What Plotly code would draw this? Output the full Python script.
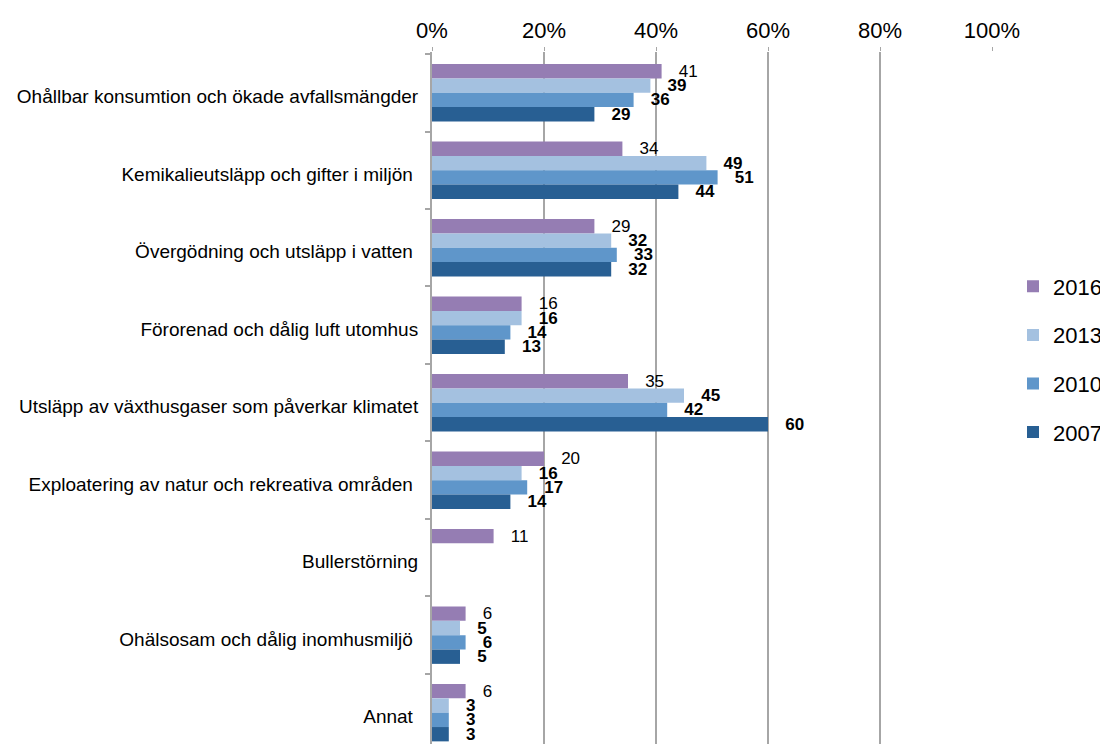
import plotly.graph_objects as go

categories = [
    "Ohållbar konsumtion och ökade avfallsmängder",
    "Kemikalieutsläpp och gifter i miljön ",
    "Övergödning och utsläpp i vatten ",
    "Förorenad och dålig luft utomhus",
    "Utsläpp av växthusgaser som påverkar klimatet",
    "Exploatering av natur och rekreativa områden ",
    "Bullerstörning",
    "Ohälsosam och dålig inomhusmiljö ",
    "Annat ",
]
series_names = ["2016", "2013", "2010", "2007"]
v2016 = [41, 34, 29, 16, 35, 20, 11, 6, 6]
v2013 = [39, 49, 32, 16, 45, 16, None, 5, 3]
v2010 = [36, 51, 33, 14, 42, 17, None, 6, 3]
v2007 = [29, 44, 32, 13, 60, 14, None, 5, 3]
values = [v2016, v2013, v2010, v2007]
colors = ["#957DB3", "#A4C1E0", "#5F96CA", "#285F93"]
bold = [False, True, True, True]
tick_vals = [0, 20, 40, 60, 80, 100]

fig = go.Figure()
pad = "\u00a0\u00a0\u00a0"
for name, vals, col, b in zip(series_names, values, colors, bold):
    texts = []
    for v in vals:
        if v is None:
            texts.append("")
        else:
            texts.append(pad + (f"<b>{v}</b>" if b else f"{v}"))
    fig.add_trace(go.Bar(
        name=name, y=categories, x=vals, orientation="h",
        marker=dict(color=col, line=dict(width=0)),
        text=texts, textposition="outside", constraintext="none",
        cliponaxis=False, textfont=dict(size=17, color="black", family="Liberation Sans, Arial"),
        legendgroup=name, hoverinfo="skip",
    ))

# page body has an 8px default margin, so the figure is offset by 8px
W, H = 1100, 736
L, T = 424, 44
paper_w = W - L
fig.update_layout(
    width=W, height=H,
    margin=dict(l=L, r=0, t=T, b=0, autoexpand=False),
    paper_bgcolor="white", plot_bgcolor="white",
    barmode="group", bargap=0.26, bargroupgap=0,
    font=dict(family="Liberation Sans, Arial", color="black"),
    legend=dict(
        x=(1005 - L) / paper_w, y=0.6915, xanchor="left", yanchor="top",
        font=dict(size=22, color="black"),
        tracegroupgap=17, bgcolor="rgba(0,0,0,0)",
    ),
    xaxis=dict(
        domain=[0, 560 / paper_w],
        side="top", range=[0, 100], tickvals=tick_vals,
        ticktext=[f"{t}%" for t in tick_vals],
        tickfont=dict(size=22, color="black"),
        showgrid=True, gridcolor="#A6A6A6", gridwidth=2,
        zeroline=False, showline=False, automargin=False,
        ticks="outside", ticklen=4, tickcolor="#A6A6A6", tickwidth=1,
    ),
    yaxis=dict(
        type="category", categoryorder="array", categoryarray=categories,
        range=[8.404, -0.526], automargin=False,
        tickfont=dict(size=19, color="black"),
        showline=True, linecolor="#A6A6A6", linewidth=2,
        ticks="outside", tickson="boundaries", ticklen=5,
        tickcolor="#A6A6A6", tickwidth=2, showgrid=False,
        ticklabelstandoff=8, ticklabelshift=-4,
    ),
)

fig.write_html("out.html")
